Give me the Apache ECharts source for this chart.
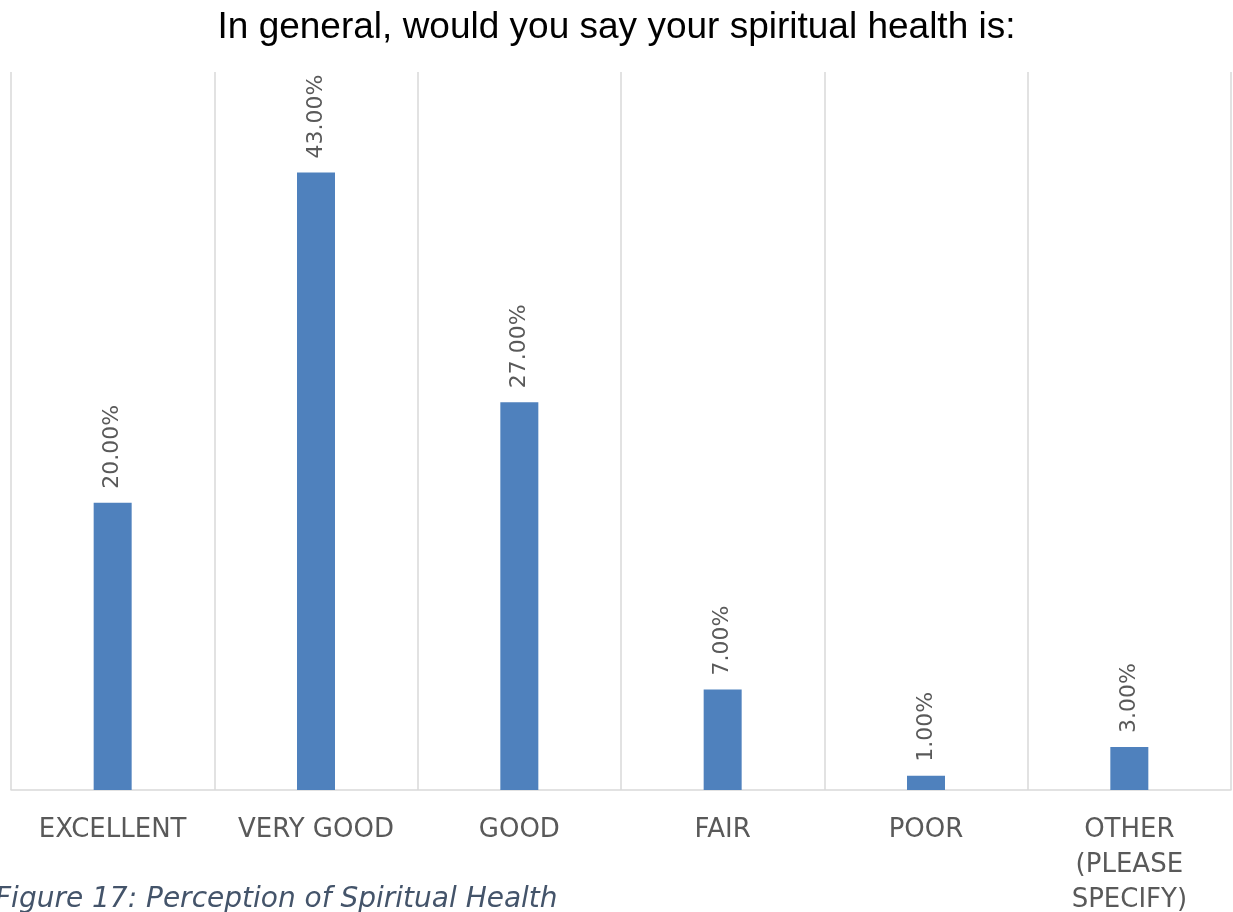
<!DOCTYPE html>
<html>
<head>
<meta charset="utf-8">
<script src="https://cdn.jsdelivr.net/npm/echarts@6/dist/echarts.min.js"></script>
<style>
  html, body { margin: 0; padding: 0; background: #fff; }
  #chart { width: 1233px; height: 912px; }
</style>
</head>
<body>
<div id="chart"></div>
<script>
// categories and values (percent)
const categories = ['EXCELLENT', 'VERY GOOD', 'GOOD', 'FAIR', 'POOR', 'OTHER\n(PLEASE\nSPECIFY)'];
const values = [20, 43, 27, 7, 1, 3];

const chart = echarts.init(document.getElementById('chart'));
chart.setOption({
  animation: false,
  title: {
    text: 'In general, would you say your spiritual health is:',
    left: 'center',
    top: 4,
    textStyle: { fontFamily: 'Liberation Sans', fontSize: 37, fontWeight: 'normal', color: '#000' }
  },
  grid: { left: 11, right: 2, top: 72, bottom: 122, outerBoundsMode: 'none' },
  xAxis: {
    type: 'category',
    data: categories,
    axisLine: { lineStyle: { color: '#D9D9D9', width: 1.5 } },
    axisTick: { show: false },
    splitLine: { show: true, lineStyle: { color: '#D9D9D9', width: 1.5 } },
    axisLabel: {
      interval: 0,
      margin: 23,
      color: '#595959',
      fontFamily: 'DejaVu Sans',
      fontSize: 26,
      lineHeight: 35
    }
  },
  yAxis: {
    type: 'value',
    min: 0,
    max: 50,
    show: false
  },
  series: [{
    type: 'bar',
    data: values,
    barWidth: 38,
    itemStyle: { color: '#4F81BD' },
    label: {
      show: true,
      position: 'top',
      rotate: 90,
      align: 'left',
      verticalAlign: 'middle',
      distance: 14,
      color: '#595959',
      fontFamily: 'DejaVu Sans',
      fontSize: 22,
      formatter: p => p.value.toFixed(2) + '%'
    }
  }],
  graphic: [{
    type: 'text',
    left: -5,
    top: 886,
    style: {
      text: 'Figure 17: Perception of Spiritual Health',
      fill: '#44546A',
      font: 'italic 28px "DejaVu Sans"'
    }
  }]
});
</script>
</body>
</html>
